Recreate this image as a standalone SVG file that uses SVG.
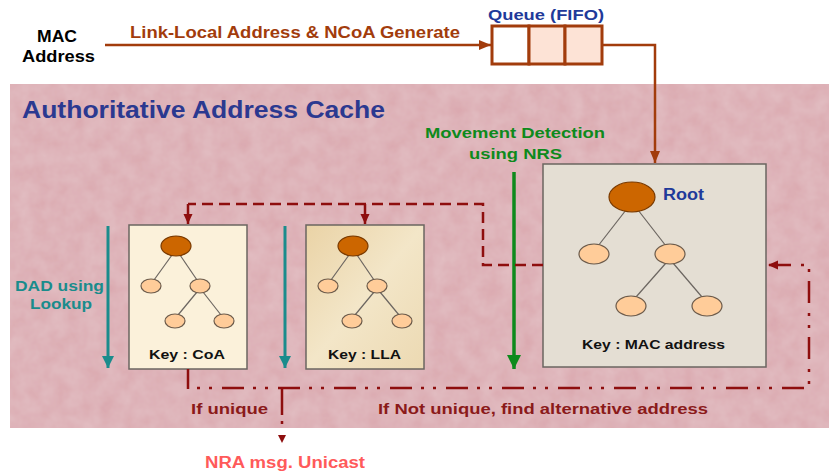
<svg xmlns="http://www.w3.org/2000/svg" width="829" height="475" viewBox="0 0 829 475">
<style>
  .t { font-family: "Liberation Sans", Arial, sans-serif; font-weight: bold; }
  .box { stroke: #6b6560; stroke-width: 1.5; }
  .edge { stroke: #6b6560; stroke-width: 1.2; }
  .rootn { fill: #CC6600; stroke: #7a3a00; stroke-width: 1.2; }
  .leaf { fill: #FFCC99; stroke: #6b5a4a; stroke-width: 1.2; }
  .brown { stroke: #A23C0C; stroke-width: 2.5; fill: none; }
  .cell { stroke: #A23C0C; stroke-width: 3; }
  .dash { stroke: #8E0E0E; stroke-width: 2.5; fill: none; stroke-dasharray: 11 6; }
  .dashdot { stroke: #8E0E0E; stroke-width: 2.5; fill: none; stroke-dasharray: 22 9 3 9 3 10; }
  .teal { stroke: #1A8C8C; stroke-width: 3; fill: none; }
  .green { stroke: #0E8A1C; stroke-width: 3.5; fill: none; }
</style>
<defs>
  <marker id="mBrown" markerUnits="userSpaceOnUse" markerWidth="14" markerHeight="12" refX="12" refY="6" orient="auto">
    <path d="M0,1 L12,6 L0,11 Z" fill="#A23C0C"/>
  </marker>
  <marker id="mRed" markerUnits="userSpaceOnUse" markerWidth="12" markerHeight="10" refX="10" refY="5" orient="auto">
    <path d="M0,0.5 L10,5 L0,9.5 Z" fill="#8E0E0E"/>
  </marker>
  <marker id="mRedS" markerUnits="userSpaceOnUse" markerWidth="10" markerHeight="10" refX="8" refY="4.5" orient="auto">
    <path d="M0,0.5 L8,4.5 L0,8.5 Z" fill="#8E0E0E"/>
  </marker>
  <marker id="mTeal" markerUnits="userSpaceOnUse" markerWidth="14" markerHeight="14" refX="12" refY="7" orient="auto">
    <path d="M0,1 L12,7 L0,13 Z" fill="#1A8C8C"/>
  </marker>
  <marker id="mGreen" markerUnits="userSpaceOnUse" markerWidth="16" markerHeight="16" refX="14" refY="8" orient="auto">
    <path d="M0,1 L14,8 L0,15 Z" fill="#0E8A1C"/>
  </marker>
  <filter id="tex" x="0" y="0" width="100%" height="100%">
    <feTurbulence type="fractalNoise" baseFrequency="0.06" numOctaves="3" seed="4" result="n"/>
    <feColorMatrix in="n" type="matrix" values="0 0 0 0 1  0 0 0 0 1  0 0 0 0 1  0 0 0 0.22 0" result="w"/>
    <feComposite in="w" in2="SourceGraphic" operator="in" result="wc"/>
    <feMerge><feMergeNode in="SourceGraphic"/><feMergeNode in="wc"/></feMerge>
  </filter>
  <linearGradient id="gLLA" x1="0" y1="0" x2="1" y2="1">
    <stop offset="0" stop-color="#EAD3A6"/>
    <stop offset="0.5" stop-color="#F3E6C8"/>
    <stop offset="1" stop-color="#ECD9B2"/>
  </linearGradient>
</defs>

<rect width="829" height="475" fill="#FFFFFF"/>
<g id="cache-area">
  <rect x="10" y="84" width="819" height="344" fill="#DAA7AE" filter="url(#tex)"/>
  <text class="t" x="22" y="118" font-size="23" fill="#2B3990" textLength="363" lengthAdjust="spacingAndGlyphs">Authoritative Address Cache</text>
</g>

<g id="mac-address">
  <text class="t" x="37" y="42" font-size="16" fill="#000" textLength="40" lengthAdjust="spacingAndGlyphs">MAC</text>
  <text class="t" x="22" y="62" font-size="16" fill="#000" textLength="73" lengthAdjust="spacingAndGlyphs">Address</text>
</g>

<g id="queue">
  <text class="t" x="488" y="20" font-size="15" fill="#1F3A9A" textLength="116" lengthAdjust="spacingAndGlyphs">Queue (FIFO)</text>
  <rect x="492" y="26" width="37" height="38" fill="#FFFFFF" class="cell"/>
  <rect x="529" y="26" width="36" height="38" fill="#FDE3D6" class="cell"/>
  <rect x="565" y="26" width="37" height="38" fill="#FDE3D6" class="cell"/>
</g>

<g id="mac-tree">
  <rect x="543" y="164" width="223" height="203" fill="#E4DED3" class="box"/>
  <line x1="626" y1="210" x2="598" y2="246" class="edge"/>
  <line x1="638" y1="210" x2="666" y2="246" class="edge"/>
  <line x1="666" y1="263" x2="636" y2="297" class="edge"/>
  <line x1="673" y1="263" x2="702" y2="297" class="edge"/>
  <ellipse cx="632" cy="197" rx="23" ry="15" class="rootn"/>
  <ellipse cx="594" cy="254" rx="15" ry="10" class="leaf"/>
  <ellipse cx="670" cy="254" rx="15" ry="10" class="leaf"/>
  <ellipse cx="631" cy="306" rx="15" ry="10" class="leaf"/>
  <ellipse cx="707" cy="306" rx="15" ry="10" class="leaf"/>
  <text class="t" x="663" y="200" font-size="16" fill="#1F3A9A" textLength="41" lengthAdjust="spacingAndGlyphs">Root</text>
  <text class="t" x="582" y="349" font-size="13" fill="#111" textLength="143" lengthAdjust="spacingAndGlyphs">Key : MAC address</text>
</g>

<g id="coa-tree">
  <rect x="129" y="225" width="118" height="144" fill="#FBF1DA" class="box"/>
  <line x1="172" y1="255" x2="154" y2="280" class="edge"/>
  <line x1="180" y1="255" x2="197" y2="280" class="edge"/>
  <line x1="197" y1="292" x2="178" y2="315" class="edge"/>
  <line x1="203" y1="292" x2="221" y2="315" class="edge"/>
  <ellipse cx="176" cy="246" rx="15" ry="10" class="rootn"/>
  <ellipse cx="151" cy="286" rx="10" ry="7" class="leaf"/>
  <ellipse cx="200" cy="286" rx="10" ry="7" class="leaf"/>
  <ellipse cx="175" cy="321" rx="10" ry="7" class="leaf"/>
  <ellipse cx="224" cy="321" rx="10" ry="7" class="leaf"/>
  <text class="t" x="149" y="359" font-size="13" fill="#111" textLength="76" lengthAdjust="spacingAndGlyphs">Key : CoA</text>
</g>

<g id="lla-tree">
  <rect x="306" y="225" width="118" height="144" fill="url(#gLLA)" class="box"/>
  <line x1="349" y1="255" x2="331" y2="280" class="edge"/>
  <line x1="357" y1="255" x2="374" y2="280" class="edge"/>
  <line x1="374" y1="292" x2="355" y2="315" class="edge"/>
  <line x1="380" y1="292" x2="399" y2="315" class="edge"/>
  <ellipse cx="353" cy="246" rx="15" ry="10" class="rootn"/>
  <ellipse cx="328" cy="286" rx="10" ry="7" class="leaf"/>
  <ellipse cx="377" cy="286" rx="10" ry="7" class="leaf"/>
  <ellipse cx="352" cy="321" rx="10" ry="7" class="leaf"/>
  <ellipse cx="402" cy="321" rx="10" ry="7" class="leaf"/>
  <text class="t" x="328" y="359" font-size="13" fill="#111" textLength="73" lengthAdjust="spacingAndGlyphs">Key : LLA</text>
</g>

<g id="connectors">
  <line x1="105" y1="45" x2="491" y2="45" class="brown" marker-end="url(#mBrown)"/>
  <text class="t" x="130" y="38" font-size="16" fill="#A23C0C" textLength="330" lengthAdjust="spacingAndGlyphs">Link-Local Address &amp; NCoA Generate</text>
  <polyline points="602,45 655,45 655,163" class="brown" marker-end="url(#mBrown)"/>

  <line x1="108" y1="226" x2="108" y2="368" class="teal" marker-end="url(#mTeal)"/>
  <line x1="285" y1="226" x2="285" y2="368" class="teal" marker-end="url(#mTeal)"/>
  <text class="t" x="15" y="291" font-size="14" fill="#1A8C8C" textLength="89" lengthAdjust="spacingAndGlyphs">DAD using</text>
  <text class="t" x="30" y="309" font-size="14" fill="#1A8C8C" textLength="62" lengthAdjust="spacingAndGlyphs">Lookup</text>

  <line x1="514" y1="172" x2="514" y2="369" class="green" marker-end="url(#mGreen)"/>
  <text class="t" x="425" y="138" font-size="15" fill="#0E8A1C" textLength="180" lengthAdjust="spacingAndGlyphs">Movement Detection</text>
  <text class="t" x="469" y="159" font-size="15" fill="#0E8A1C" textLength="93" lengthAdjust="spacingAndGlyphs">using NRS</text>

  <polyline points="543,265 483,265 483,204 188,204" class="dash"/>
  <line x1="188" y1="204" x2="188" y2="224" stroke="#8E0E0E" stroke-width="2.5" marker-end="url(#mRed)"/>
  <line x1="365" y1="204" x2="365" y2="224" stroke="#8E0E0E" stroke-width="2.5" marker-end="url(#mRed)"/>

  <line x1="188" y1="369" x2="188" y2="389" stroke="#8E0E0E" stroke-width="2.5"/>
  <polyline points="188,388 809,388 809,265 768,265" class="dashdot" stroke-dashoffset="22" marker-end="url(#mRed)"/>
  <line x1="282" y1="388" x2="282" y2="443" stroke="#8E0E0E" stroke-width="2.5" stroke-dasharray="27 6 3 100" marker-end="url(#mRedS)"/>

  <text class="t" x="191" y="414" font-size="15" fill="#8B1A1A" textLength="77" lengthAdjust="spacingAndGlyphs">If unique</text>
  <text class="t" x="378" y="414" font-size="15" fill="#8B1A1A" textLength="330" lengthAdjust="spacingAndGlyphs">If Not unique, find alternative address</text>
  <text class="t" x="205" y="468" font-size="16" fill="#FF5A5A" textLength="160" lengthAdjust="spacingAndGlyphs">NRA msg. Unicast</text>
</g>
</svg>
